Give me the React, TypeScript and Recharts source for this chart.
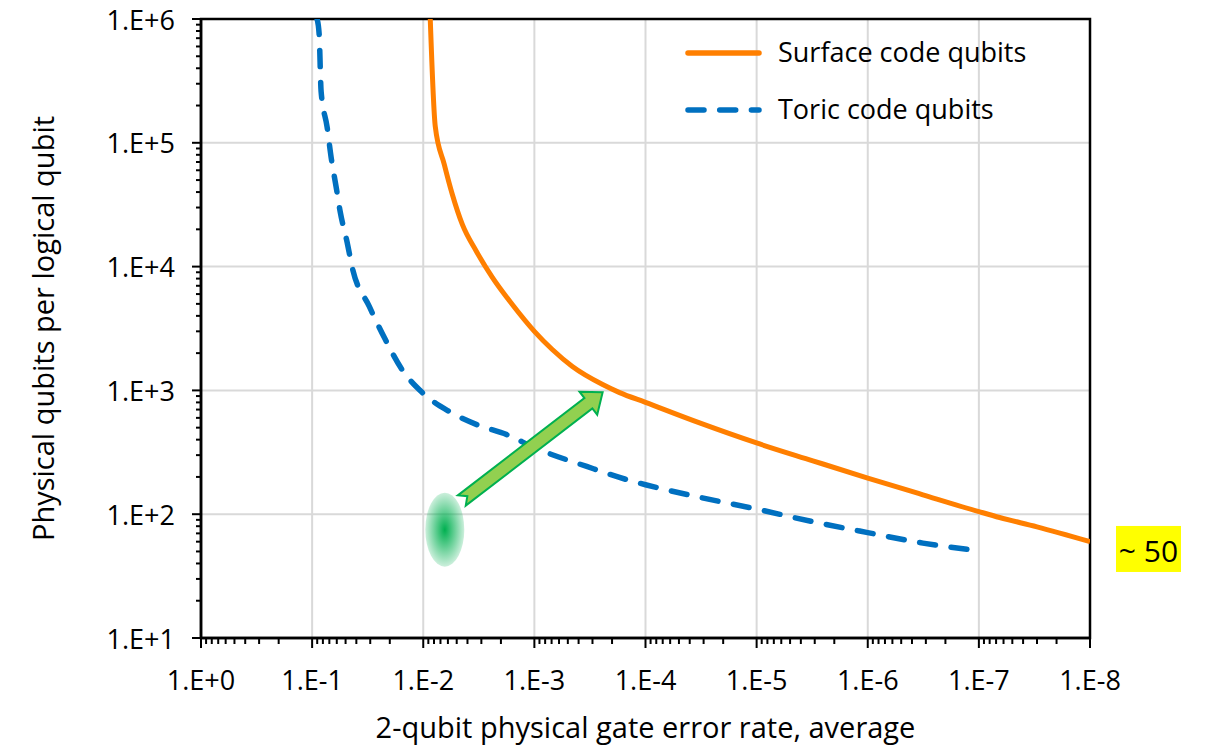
import React from 'react'
import { LineChart, Line, XAxis, YAxis, CartesianGrid, Legend, ReferenceArea, ReferenceDot, ReferenceLine } from 'recharts'

const FONT = '"Open Sans", "Noto Sans", sans-serif'

// axes (x runs from 1 down to 1e-8, both log)
const X_MAJOR = [1, 1e-1, 1e-2, 1e-3, 1e-4, 1e-5, 1e-6, 1e-7, 1e-8]
const X_LABELS = ['1.E+0', '1.E-1', '1.E-2', '1.E-3', '1.E-4', '1.E-5', '1.E-6', '1.E-7', '1.E-8']
const Y_MAJOR = [10, 100, 1e3, 1e4, 1e5, 1e6]
const Y_LABELS = ['1.E+1', '1.E+2', '1.E+3', '1.E+4', '1.E+5', '1.E+6']
const MINOR_STEPS = [2, 3, 4, 5, 6, 7, 8, 9]

const X_MINOR = X_MAJOR.slice(1).flatMap(d => MINOR_STEPS.map(m => m * d))
const Y_MINOR = Y_MAJOR.slice(0, -1).flatMap(d => MINOR_STEPS.map(m => m * d))

// surface code (orange)
const surfaceErr = [8.65e-3, 7.8e-3, 6.47e-3, 5.48e-3, 4.45e-3, 3.33e-3, 2.39e-3, 1.58e-3, 1e-3, 6.9e-4, 4.55e-4, 2.43e-4, 1.71e-4, 1e-4, 3.26e-5, 1e-5, 3.12e-6, 1e-6, 3.19e-7, 1e-7, 6.5e-8, 3e-8, 1e-8]
const surfaceQubits = [1e6, 1.36e5, 6.7e4, 3.84e4, 2.19e4, 1.33e4, 8180, 4940, 3000, 2140, 1560, 1115, 960, 800, 546, 376, 270, 196, 143.5, 105, 94, 79, 60]

// toric code (blue dashed)
const toricErr = [0.0902, 0.0865, 0.083, 0.0733, 0.0674, 0.0608, 0.056, 0.0484, 0.0436, 0.0306, 0.0224, 0.0155, 0.0102, 5.8e-3, 3.3e-3, 1.77e-3, 1e-3, 3.38e-4, 1.47e-4, 1e-4, 3.26e-5, 1e-5, 3.12e-6, 1e-6, 3.19e-7, 1e-7]
const toricQubits = [1e6, 7.6e5, 2.6e5, 1.34e5, 7.6e4, 4.4e4, 2.8e4, 1.57e4, 9860, 4770, 2670, 1470, 960, 673, 529, 439, 345, 243, 190, 173, 137, 110, 87, 71, 58.4, 50.6]

// annotations
const blob = { err: 6.4e-3, qubits: 75 }
const arrowFrom = { err: 4.5e-3, qubits: 129 }
const arrowTo = { err: 2.43e-4, qubits: 966 }
const tag = { err: 1e-8, qubits: 50, text: '~ 50' }

const surfaceData = surfaceErr.map((e, i) => ({ err: e, qubits: surfaceQubits[i] }))
const toricData = toricErr.map((e, i) => ({ err: e, qubits: toricQubits[i] }))

function XTick(props: any) {
  const { x, y, payload } = props
  const i = X_MAJOR.indexOf(payload.value)
  return (
    <g>
      <line x1={x} x2={x} y1={y} y2={y + (i >= 0 ? 10 : 6)} stroke="#000" strokeWidth={2} />
      {i >= 0 && (
        <text x={x} y={y + 52} textAnchor="middle" fontSize={27} fontFamily={FONT} fill="#000">{X_LABELS[i]}</text>
      )}
    </g>
  )
}

function YTick(props: any) {
  const { x, y, payload } = props
  const i = Y_MAJOR.indexOf(payload.value)
  return (
    <g>
      <line x1={x} x2={x - (i >= 0 ? 9 : 5)} y1={y} y2={y} stroke="#000" strokeWidth={2} />
      {i >= 0 && (
        <text x={x - 26} y={y + 10.5} textAnchor="end" fontSize={27} fontFamily={FONT} fill="#000">{Y_LABELS[i]}</text>
      )}
    </g>
  )
}

function XTitle(props: any) {
  const vb = props.viewBox
  if (!vb) return null
  return (
    <text x={vb.x + vb.width / 2} y={vb.y + 100} textAnchor="middle" fontSize={29} fontFamily={FONT} fill="#000">
      2-qubit physical gate error rate, average
    </text>
  )
}

function YTitle(props: any) {
  const vb = props.viewBox
  if (!vb) return null
  const cx = vb.x + 42
  const cy = vb.y + vb.height / 2
  return (
    <text x={cx} y={cy} transform={`rotate(-90 ${cx} ${cy})`} textAnchor="middle" dominantBaseline="central" fontSize={29} fontFamily={FONT} fill="#000">
      Physical qubits per logical qubit
    </text>
  )
}

function LegendBox(props: any) {
  const items = props.payload || []
  return (
    <svg width={380} height={115} style={{ display: 'block' }}>
      {items.map((it: any, i: number) => {
        const cy = 33 + i * 57
        return (
          <g key={i}>
            <line x1={8} x2={79} y1={cy} y2={cy} stroke={it.color} strokeWidth={5.5} strokeLinecap="round"
              strokeDasharray={it.payload?.strokeDasharray} />
            <text x={98} y={cy + 9} fontSize={27} fontFamily={FONT} fill="#000">{it.value}</text>
          </g>
        )
      })}
    </svg>
  )
}

function Blob(props: any) {
  const { cx, cy } = props
  return (
    <g>
      <defs>
        <radialGradient id="blobFill" cx="50%" cy="50%" r="50%">
          <stop offset="0%" stopColor="#00B050" stopOpacity={1} />
          <stop offset="100%" stopColor="#00B050" stopOpacity={0.2} />
        </radialGradient>
      </defs>
      <ellipse cx={cx} cy={cy} rx={19.5} ry={37} fill="url(#blobFill)" />
    </g>
  )
}

function NotchArrow(props: any) {
  const { x1, y1, x2, y2 } = props
  const dx = x2 - x1, dy = y2 - y1
  const L = Math.hypot(dx, dy)
  if (!L) return null
  const ux = dx / L, uy = dy / L, vx = -uy, vy = ux
  const hw = 6.5, hh = 14.5, hl = 18, nd = 7
  const pts = [[0, -hw], [L - hl, -hw], [L - hl, -hh], [L, 0], [L - hl, hh], [L - hl, hw], [0, hw], [nd, 0]]
  const d = pts.map(([a, b]) => `${x1 + a * ux + b * vx},${y1 + a * uy + b * vy}`).join(' ')
  return <polygon points={d} fill="#92D050" stroke="#00B050" strokeWidth={2} />
}

function Tag(props: any) {
  const { cx, cy } = props
  return (
    <g>
      <rect x={cx + 26} y={cy - 25.5} width={65} height={46} fill="#FFFF00" />
      <text x={cx + 58.5} y={cy + 10.5} textAnchor="middle" fontSize={30} fontFamily={FONT} fill="#000">{tag.text}</text>
    </g>
  )
}

export default function App() {
  return (
    <div style={{ position: 'fixed', left: 0, top: 0, width: 1205, height: 745, background: '#fff' }}>
      <LineChart width={1205} height={745} margin={{ top: 19, right: 115, bottom: 0, left: 0 }}>
        <CartesianGrid stroke="#D9D9D9" strokeWidth={2} verticalValues={X_MAJOR} horizontalValues={Y_MAJOR} />
        <XAxis
          dataKey="err"
          type="number"
          scale="log"
          domain={[1e-8, 1]}
          reversed
          allowDataOverflow
          ticks={[...X_MAJOR, ...X_MINOR]}
          interval={0}
          tick={<XTick />}
          tickLine={false}
          tickSize={0}
          tickMargin={0}
          axisLine={{ stroke: '#000', strokeWidth: 2.5 }}
          height={107}
          label={<XTitle />}
        />
        <YAxis
          dataKey="qubits"
          type="number"
          scale="log"
          domain={[10, 1e6]}
          allowDataOverflow
          ticks={[...Y_MAJOR, ...Y_MINOR]}
          interval={0}
          tick={<YTick />}
          tickLine={false}
          tickSize={0}
          tickMargin={0}
          axisLine={{ stroke: '#000', strokeWidth: 2.5 }}
          width={201}
          label={<YTitle />}
        />
        <ReferenceArea x1={1} x2={1e-8} y1={10} y2={1e6} fill="none" stroke="#000" strokeWidth={2.5} ifOverflow="visible" />
        <Line
          data={surfaceData}
          dataKey="qubits"
          name="Surface code qubits"
          type="monotone"
          stroke="#FF7F00"
          strokeWidth={5}
          dot={false}
          activeDot={false}
          isAnimationActive={false}
        />
        <Line
          data={toricData}
          dataKey="qubits"
          name="Toric code qubits"
          type="monotone"
          stroke="#0070C0"
          strokeWidth={5.5}
          strokeDasharray="16 15.7"
          strokeLinecap="round"
          dot={false}
          activeDot={false}
          isAnimationActive={false}
        />
        <ReferenceDot x={blob.err} y={blob.qubits} r={1} ifOverflow="visible" shape={(p: any) => <Blob {...p} />} />
        <ReferenceLine
          segment={[{ x: arrowFrom.err, y: arrowFrom.qubits }, { x: arrowTo.err, y: arrowTo.qubits }]}
          ifOverflow="visible"
          shape={(p: any) => <NotchArrow {...p} />}
        />
        <ReferenceDot x={tag.err} y={tag.qubits} r={1} ifOverflow="visible" shape={(p: any) => <Tag {...p} />} />
        <Legend
          layout="vertical"
          verticalAlign="middle"
          align="center"
          wrapperStyle={{ left: 680, top: 20, width: 380, height: 115 }}
          content={<LegendBox />}
        />
      </LineChart>
    </div>
  )
}
